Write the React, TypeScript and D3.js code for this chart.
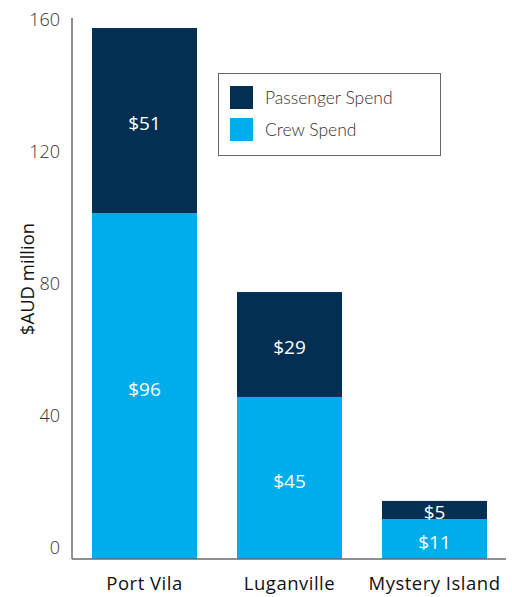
import React from "react";
import * as d3 from "d3";

const categories = ["Port Vila", "Luganville", "Mystery Island"];
// bar heights as drawn against the y axis
const crewValues = [104.8, 49.1, 12.1];
const passengerValues = [56.1, 31.8, 5.5];
// value labels printed in the bars
const crewLabels = ["$96", "$45", "$11"];
const passengerLabels = ["$51", "$29", "$5"];
const yTicks = [0, 40, 80, 120, 160];
const seriesNames = ["Passenger Spend", "Crew Spend"];
const colors = { passenger: "#022f52", crew: "#00adeb" };

const W = 512;
const H = 597;
const FONT = "Lato, 'Open Sans', sans-serif";
const OS = "'Open Sans', sans-serif";

export default function App() {
  const x = d3
    .scaleBand<string>()
    .domain(categories)
    .range([72, 507])
    .paddingInner(0.276)
    .paddingOuter(0.138);
  const y = d3.scaleLinear().domain([0, 160]).range([559, 31]);

  return (
    <svg
      width={W}
      height={H}
      style={{ position: "absolute", left: 0, top: 0 }}
      fontFamily={FONT}
    >
      {categories.map((c, i) => {
        const x0 = x(c)!;
        const bw = x.bandwidth();
        const crewTop = y(crewValues[i]);
        const totTop = y(crewValues[i] + passengerValues[i]);
        return (
          <g key={c}>
            <rect x={x0} y={crewTop} width={bw} height={y(0) - crewTop} fill={colors.crew} />
            <rect x={x0} y={totTop} width={bw} height={crewTop - totTop} fill={colors.passenger} />
            <text
              x={x0 + bw / 2}
              y={(crewTop + y(0)) / 2 + 3}
              textAnchor="middle"
              dominantBaseline="central"
              fill="#fff"
              fontSize={19}
              fontFamily={OS}
            >
              {crewLabels[i]}
            </text>
            <text
              x={x0 + bw / 2}
              y={(crewTop + totTop) / 2 + 2}
              textAnchor="middle"
              dominantBaseline="central"
              fill="#fff"
              fontSize={19}
              fontFamily={OS}
            >
              {passengerLabels[i]}
            </text>
            <text
              x={x0 + bw / 2}
              y={590}
              textAnchor="middle"
              fill="#111"
              fontSize={18.5}
              letterSpacing={0.5}
              fontFamily={OS}
            >
              {c}
            </text>
          </g>
        );
      })}

      {/* axes */}
      <line x1={72} x2={72} y1={18} y2={y(0)} stroke="#6b6b6b" strokeWidth={1.5} />
      <line x1={72} x2={506} y1={y(0)} y2={y(0)} stroke="#6b6b6b" strokeWidth={1.5} />
      {yTicks.map((t) => (
        <text
          key={t}
          x={60}
          y={y(t) - 12}
          textAnchor="end"
          dominantBaseline="central"
          fill="#333"
          fontSize={18}
          fontWeight={300}
          fontFamily={OS}
        >
          {t}
        </text>
      ))}
      <text
        transform={`translate(26,279) rotate(-90)`}
        textAnchor="middle"
        dominantBaseline="central"
        fill="#111"
        fontSize={18.5}
        fontFamily={OS}
      >
        $AUD million
      </text>

      {/* legend */}
      <rect x={218.5} y={73.5} width={222} height={82} fill="#fff" stroke="#666" strokeWidth={1} />
      {seriesNames.map((s, i) => (
        <g key={s}>
          <rect
            x={230}
            y={86 + i * 32}
            width={23}
            height={23}
            fill={i === 0 ? colors.passenger : colors.crew}
          />
          <text
            x={265}
            y={97.5 + i * 32}
            dominantBaseline="central"
            fill="#333"
            fontSize={17.5}
            fontWeight={300}
          >
            {s}
          </text>
        </g>
      ))}
    </svg>
  );
}
